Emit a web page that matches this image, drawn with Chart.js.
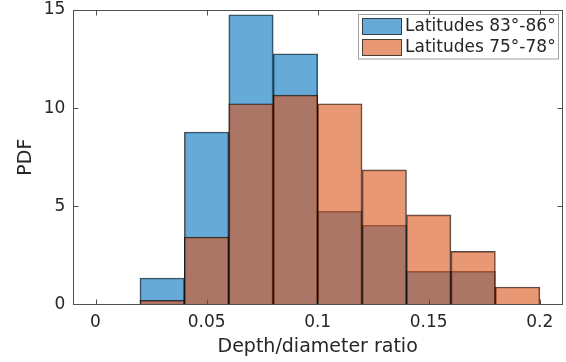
<!DOCTYPE html>
<html>
<head>
<meta charset="utf-8">
<script src="https://cdn.jsdelivr.net/npm/chart.js@4"></script>
<style>
  html, body { margin: 0; padding: 0; background: #fff; }
  #wrap { width: 566px; height: 362px; }
</style>
</head>
<body>
<div id="wrap"><canvas id="chart" width="566" height="362"></canvas></div>
<script>
/* DATA */
const binCenters = [0.03, 0.05, 0.07, 0.09, 0.11, 0.13, 0.15, 0.17, 0.19];
const pdfNorth = [1.34, 8.78, 14.76, 12.77, 4.74, 4.03, 1.68, 1.68, 0];
const pdfSouth = [0.2, 3.42, 10.22, 10.66, 10.22, 6.85, 4.56, 2.7, 0.88];
const seriesLabels = ["Latitudes 83°-86°", "Latitudes 75°-78°"];
const xTicks = [0, 0.05, 0.1, 0.15, 0.2];
const yTicks = [0, 5, 10, 15];

const FONT = "'DejaVu Sans', sans-serif";
const TEXT = "#262626";
const BLUE = "rgba(0,114,189,0.6)";
const ORANGE = "rgba(217,83,25,0.6)";
const EDGE = "rgba(0,0,0,0.7)";

function toPoints(vals) {
  return binCenters.map((x, i) => ({ x: x, y: vals[i] }));
}

/* box, inward ticks and legend, MATLAB style */
const matlabAxes = {
  id: "matlabAxes",
  afterDraw(chart) {
    const ctx = chart.ctx;
    const a = chart.chartArea;
    const xs = chart.scales.x, ys = chart.scales.y;
    const L = Math.round(a.left) + 0.5, R = Math.round(a.right) + 0.5;
    const T = Math.round(a.top) + 0.5, B = Math.round(a.bottom) + 0.5;
    ctx.save();
    ctx.strokeStyle = "rgb(80,80,80)";
    ctx.lineWidth = 1;
    ctx.strokeRect(L, T, R - L, B - T);
    ctx.beginPath();
    xTicks.forEach(v => {
      const px = Math.round(xs.getPixelForValue(v)) + 0.5;
      ctx.moveTo(px, B); ctx.lineTo(px, B - 5);
      ctx.moveTo(px, T); ctx.lineTo(px, T + 5);
    });
    yTicks.forEach(v => {
      const py = Math.round(ys.getPixelForValue(v)) + 0.5;
      ctx.moveTo(L, py); ctx.lineTo(L + 5, py);
      ctx.moveTo(R, py); ctx.lineTo(R - 5, py);
    });
    ctx.stroke();

    // legend
    const lx = 358.5, ly = 14.5, lw = 200, lh = 44.5;
    ctx.fillStyle = "#fff";
    ctx.fillRect(lx, ly, lw, lh);
    ctx.strokeStyle = "rgb(160,160,160)";
    ctx.strokeRect(lx, ly, lw, lh);
    const fills = [BLUE, ORANGE];
    ctx.font = "17px " + FONT;
    ctx.textBaseline = "middle";
    seriesLabels.forEach((lab, i) => {
      const sy = 18.5 + i * 21;
      ctx.fillStyle = "#fff";
      ctx.fillRect(362.5, sy, 39, 16);
      ctx.fillStyle = fills[i];
      ctx.fillRect(362.5, sy, 39, 16);
      ctx.strokeStyle = EDGE;
      ctx.strokeRect(362.5, sy, 39, 16);
      ctx.fillStyle = TEXT;
      ctx.fillText(lab, 405, sy + 8.5);
    });
    ctx.restore();
  }
};

function renderChart() {
  const ctx = document.getElementById("chart");
  new Chart(ctx, {
    type: "bar",
    data: {
      datasets: [
        { label: seriesLabels[0], data: toPoints(pdfNorth), backgroundColor: BLUE,
          borderColor: EDGE, borderWidth: 1, borderSkipped: "bottom", order: 2 },
        { label: seriesLabels[1], data: toPoints(pdfSouth), backgroundColor: ORANGE,
          borderColor: EDGE, borderWidth: 1, borderSkipped: "bottom", order: 1 }
      ]
    },
    options: {
      responsive: false,
      animation: false,
      grouped: false,
      barPercentage: 1,
      categoryPercentage: 1,
      layout: { padding: { top: 10, right: 4, left: 0, bottom: 0 } },
      plugins: { legend: { display: false }, tooltip: { enabled: false } },
      scales: {
        x: {
          type: "linear",
          min: -0.01, max: 0.21,
          offset: false,
          afterBuildTicks: s => { s.ticks = xTicks.map(v => ({ value: v })); },
          afterFit: s => { s.height = 57.7; s.paddingLeft = 0; s.paddingRight = 0; },
          grid: { display: false, drawTicks: false },
          border: { display: false },
          ticks: {
            color: TEXT, font: { family: FONT, size: 17 }, padding: 8, maxRotation: 0,
            callback: v => String(+v.toFixed(2))
          },
          title: { display: true, text: "Depth/diameter ratio", color: TEXT,
                   font: { family: FONT, size: 19 }, padding: { top: 0 } }
        },
        y: {
          min: 0, max: 15,
          afterBuildTicks: s => { s.ticks = yTicks.map(v => ({ value: v })); },
          afterFit: s => { s.width = 73.3; s.paddingTop = 0; s.paddingBottom = 0; },
          grid: { display: false, drawTicks: false },
          border: { display: false },
          ticks: { color: TEXT, font: { family: FONT, size: 17 }, padding: 8 },
          title: { display: true, text: "PDF", color: TEXT,
                   font: { family: FONT, size: 19 }, padding: { top: 15, bottom: 0 } }
        }
      }
    },
    plugins: [matlabAxes]
  });
}

renderChart();
</script>
</body>
</html>
